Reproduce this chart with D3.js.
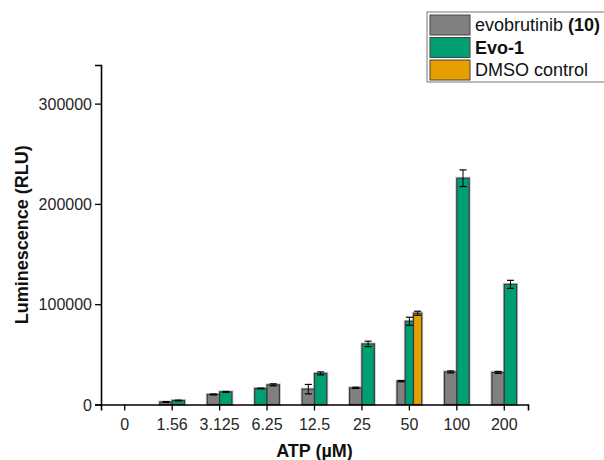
<!DOCTYPE html>
<html>
<head>
<meta charset="utf-8">
<script src="https://cdn.jsdelivr.net/npm/d3@7"></script>
<style>
  body { margin: 0; background: #fff; }
  svg { font-family: Arial, "Liberation Sans", sans-serif; }
</style>
</head>
<body>
<svg id="chart" width="604" height="460"></svg>
<script>
// ATP concentrations (uM)
const categories = ['0', '1.56', '3.125', '6.25', '12.5', '25', '50', '100', '200'];
const evobrutinib = [null, 2500, 10000, 19600, 15300, 16600, 23300, 32500, 32000];
const evobrutinibErr = [null, 400, 500, 1000, 4700, 600, 600, 1000, 1000];
const evo1 = [null, 4000, 12600, 16000, 31000, 60400, 83000, 225600, 119800];
const evo1Err = [null, 300, 400, 300, 1500, 2700, 4000, 8300, 4000];
const dmso = [null, null, null, null, null, null, 91000, null, null];
const dmsoErr = [null, null, null, null, null, null, 2000, null, null];
// categories where the green bar was plotted first
const greenFirst = ['6.25'];
const yTicks = [0, 100000, 200000, 300000];

const series = [
  { key: 'evo', values: evobrutinib, err: evobrutinibErr, color: '#808080' },
  { key: 'evo1', values: evo1, err: evo1Err, color: '#009E73' },
  { key: 'dmso', values: dmso, err: dmsoErr, color: '#E69F00' },
];

const svg = d3.select('#chart');
const margin = { top: 65, right: 76, bottom: 55.5, left: 101 };
const width = 604, height = 460;

const x = d3.scaleBand()
  .domain(categories)
  .range([margin.left, width - margin.right])
  .padding(0);

const y = d3.scaleLinear()
  .domain([0, 338500])
  .range([height - margin.bottom, margin.top]);

// build groups
const groups = categories.map((c, i) => {
  let bars = series
    .filter(s => s.values[i] != null)
    .map(s => ({ cat: c, value: s.values[i], err: s.err[i], color: s.color }));
  if (greenFirst.includes(c)) bars.reverse();
  return { cat: c, bars };
});

const groupWidth = x.bandwidth() * 0.52;

const g = svg.selectAll('.bar-group')
  .data(groups)
  .enter()
  .append('g')
  .attr('class', 'bar-group')
  .attr('transform', d => `translate(${x(d.cat) + x.bandwidth() / 2 - groupWidth / 2}, 0)`);

const barData = d => d.bars.map((b, j) => ({ ...b, j, n: d.bars.length }));

// light halo under bars
g.selectAll('.halo')
  .data(barData)
  .enter()
  .append('rect')
  .attr('x', d => d.j * groupWidth / d.n)
  .attr('y', d => y(d.value))
  .attr('width', d => groupWidth / d.n)
  .attr('height', d => y(0) - y(d.value))
  .attr('fill', 'none')
  .attr('stroke', '#c8c8c8')
  .attr('stroke-width', 3);

g.selectAll('.bar')
  .data(barData)
  .enter()
  .append('rect')
  .attr('class', 'bar')
  .attr('x', d => d.j * groupWidth / d.n)
  .attr('y', d => y(d.value))
  .attr('width', d => groupWidth / d.n)
  .attr('height', d => y(0) - y(d.value))
  .attr('fill', d => d.color)
  .attr('stroke', '#3a3a3a')
  .attr('stroke-width', 1.2);

// error bars
const eb = g.selectAll('.err')
  .data(barData)
  .enter()
  .append('g')
  .attr('class', 'err')
  .attr('transform', d => `translate(${(d.j + 0.5) * groupWidth / d.n}, 0)`);

eb.append('line')
  .attr('y1', d => y(d.value + d.err))
  .attr('y2', d => y(d.value - d.err))
  .attr('stroke', '#000')
  .attr('stroke-width', 1);
[1, -1].forEach(sign => {
  eb.append('line')
    .attr('x1', -3.5).attr('x2', 3.5)
    .attr('y1', d => y(d.value + sign * d.err))
    .attr('y2', d => y(d.value + sign * d.err))
    .attr('stroke', '#000')
    .attr('stroke-width', 1.2);
});

// axes
const xAxis = svg.append('g')
  .attr('transform', `translate(0, ${y(0)})`)
  .call(d3.axisBottom(x).tickSizeOuter(0).tickSize(6).tickPadding(8));
const yAxis = svg.append('g')
  .attr('transform', `translate(${margin.left}, 0)`)
  .call(d3.axisLeft(y).tickValues(yTicks).tickFormat(d3.format('d')).tickSizeOuter(0).tickSize(6).tickPadding(3));

[xAxis, yAxis].forEach(a => {
  a.select('.domain').attr('stroke', '#000').attr('stroke-width', 1.6);
  a.selectAll('.tick line').attr('stroke', '#000').attr('stroke-width', 1.3);
  a.selectAll('.tick text')
    .attr('fill', '#262626')
    .style('font-size', '16px')
    .style('font-family', 'Arial, "Liberation Sans", sans-serif');
});
yAxis.selectAll('.tick text').attr('dy', '0.35em');

// axis titles
svg.append('text')
  .attr('x', (margin.left + width - margin.right) / 2)
  .attr('y', 457)
  .attr('text-anchor', 'middle')
  .style('font-size', '18px')
  .style('font-weight', 'bold')
  .attr('fill', '#111')
  .text('ATP (µM)');

svg.append('text')
  .attr('transform', `translate(28, ${(y(0) + margin.top) / 2}) rotate(-90)`)
  .attr('text-anchor', 'middle')
  .style('font-size', '18px')
  .style('font-weight', 'bold')
  .attr('fill', '#111')
  .text('Luminescence (RLU)');

// legend
const legendData = [
  { color: '#808080', parts: [['evobrutinib ', 'normal'], ['(10)', 'bold']] },
  { color: '#009E73', parts: [['Evo-1', 'bold']] },
  { color: '#E69F00', parts: [['DMSO control', 'normal']] },
];

svg.append('rect')
  .attr('x', 427).attr('y', 12)
  .attr('width', 190).attr('height', 70)
  .attr('fill', '#fff')
  .attr('stroke', '#777')
  .attr('stroke-width', 1);

const legend = svg.selectAll('.legend')
  .data(legendData)
  .enter()
  .append('g')
  .attr('class', 'legend')
  .attr('transform', (d, i) => `translate(430, ${15 + i * 22.5})`);

legend.append('rect')
  .attr('width', 40)
  .attr('height', 20)
  .attr('fill', d => d.color)
  .attr('stroke', '#444')
  .attr('stroke-width', 1);

const lt = legend.append('text')
  .attr('x', 45)
  .attr('y', 16)
  .style('font-size', '18px')
  .attr('fill', '#111');
lt.selectAll('tspan')
  .data(d => d.parts)
  .enter()
  .append('tspan')
  .style('font-weight', d => d[1])
  .style('white-space', 'pre')
  .text(d => d[0]);
</script>
</body>
</html>
